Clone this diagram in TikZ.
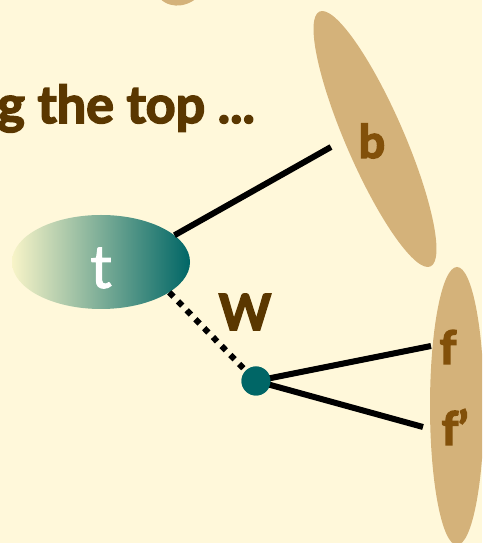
\documentclass[tikz,border=0pt]{standalone}
\usepackage{fontspec}
\setmainfont{Lato}
\usetikzlibrary{shapes.geometric}
\definecolor{bgc}{RGB}{255,248,218}
\definecolor{tanc}{RGB}{212,178,122}
\definecolor{titlec}{RGB}{90,55,0}
\definecolor{labc}{RGB}{130,80,10}
\definecolor{tealc}{RGB}{0,102,102}
\definecolor{creamc}{RGB}{248,244,200}
\newcommand{\heavy}[1]{\special{pdf:literal direct 2 Tr 1.6 w}#1\special{pdf:literal direct 0 Tr}}
\newcommand{\semiheavy}[1]{\special{pdf:literal direct 2 Tr 1.0 w}#1\special{pdf:literal direct 0 Tr}}
\tikzset{
  blob/.style={fill=tanc, draw=none},
  lab/.style={font=\fontsize{46}{46}\selectfont\bfseries, text=labc, inner sep=0pt},
  leg/.style={line width=6pt, draw=black},
  dotleg/.style={line width=6pt, draw=black, dash pattern=on 6pt off 6.5pt},
}
\begin{document}
\begin{tikzpicture}[x=1pt,y=1pt]
\useasboundingbox (0,0) rectangle (482,543);
\fill[bgc] (0,0) rectangle (482,543);
\clip (0,0) rectangle (482,543);
% partial blob at top
\fill[blob, rotate around={-30:(182,570)}] (182,570) ellipse [x radius=28, y radius=34];
% b blob
\fill[blob, rotate around={-66.5:(375,404)}] (375,404) ellipse [x radius=139, y radius=29];
% f blob
\fill[blob] (457,137) ellipse [x radius=27, y radius=139];
% title
\node[anchor=base east, inner sep=0pt, font=\fontsize{52}{52}\selectfont\bfseries, text=titlec] (title) at (255,420) {\heavy{g the top ...}};
% t node
\node[ellipse, minimum width=178pt, minimum height=94pt, inner sep=0pt, left color=creamc, right color=tealc, draw=none] (t) at (101,281) {};
\node[font=\fontsize{60}{60}\selectfont, text=white, inner sep=0pt] (tl) at (101,275) {\semiheavy{t}};
% W vertex
\node[circle, fill=tealc, minimum size=29pt, inner sep=0pt] (dot) at (256,162) {};
\node[inner sep=0pt, font=\fontsize{50}{50}\selectfont\bfseries, text=titlec] (W) at (245,231) {\heavy{W}};
% labels
\node[lab] (b) at (372,402) {\heavy{b}};
\node[lab] (f) at (448,196) {\heavy{f}};
\node[lab] (fp) at (455,116) {\heavy{f’}};
% end points
\coordinate (bend) at (331,396);
\coordinate (fend) at (431,197);
\coordinate (fpend) at (423,116);
% connectors
\draw[leg] (t.20) -- (bend);
\draw[dotleg] (t.-24) -- (dot.135);
\draw[leg] (dot.center) -- (fend);
\draw[leg] (dot.center) -- (fpend);
\fill[tealc] (dot) circle (14.5pt);
\end{tikzpicture}
\end{document}
